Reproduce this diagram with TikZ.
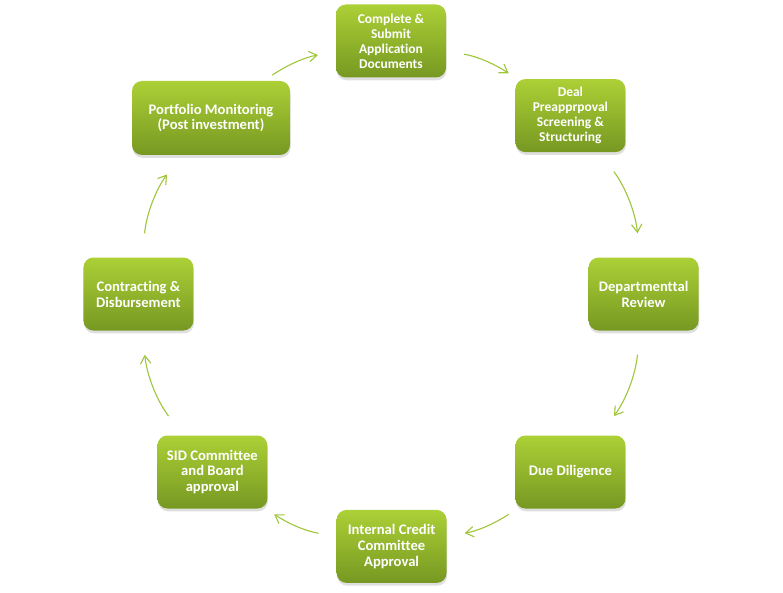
\documentclass[tikz,border=0pt]{standalone}
\usepackage{fontspec}
\setmainfont{Carlito}[Ligatures=CommonOff]
\usepackage{xcolor}
\usepackage{tikz}
\usetikzlibrary{arrows.meta,shadows}
\definecolor{leafhi}{RGB}{172,208,54}
\definecolor{leaflo}{RGB}{118,152,34}
\definecolor{flowgreen}{RGB}{160,198,62}

\begin{document}
\begin{tikzpicture}[
  stage/.style={rounded corners=0.25cm, minimum width=2.75cm, minimum height=1.825cm,
    top color=leafhi, bottom color=leaflo, text=white, align=center, inner sep=2pt,
    font=\bfseries\fontsize{10.4}{11.3}\selectfont,
    drop shadow={shadow xshift=0.4pt, shadow yshift=-2pt, opacity=0.25}},
  tight/.style={font=\bfseries\fontsize{9.6}{10.6}\selectfont},
  flow/.style={-{Straight Barb[length=2mm,width=2.6mm]}, flowgreen, line width=0.8pt},
  flat/.style={flow, bend left=12},
  steep/.style={flow, bend left=16, shorten <=0.6cm, shorten >=0.6cm}]
  \useasboundingbox (0,0) rectangle (19.575,14.8);
  % stages around the cycle
  \node[stage, tight] (submit) at (9.775,13.775) {Complete \&\\ Submit\\ Application\\ Documents};
  \node[stage, tight] (screen) at (14.26,11.91) {Deal\\ Preapprpoval\\ Screening \&\\ Structuring};
  \node[stage] (review) at (16.09,7.45) {Departmenttal\\ Review};
  \node[stage] (diligence) at (14.26,3.0) {Due Diligence};
  \node[stage] (credit) at (9.79,1.14) {Internal Credit\\ Committee\\ Approval};
  \node[stage] (board) at (5.31,3.0) {SID Committee\\ and Board\\ approval};
  \node[stage] (disburse) at (3.46,7.45) {Contracting \&\\ Disbursement};
  \node[stage, minimum width=3.95cm, minimum height=1.85cm] (monitor) at (5.275,11.85)
    {Portfolio Monitoring\\ (Post investment)};
  % arrows
  \draw[flat, shorten <=0.45cm, shorten >=0.25cm] (submit) to (screen);
  \draw[steep] (screen) to (review);
  \draw[steep] (review) to (diligence);
  \draw[flat, shorten <=0.25cm, shorten >=0.45cm] (diligence) to (credit);
  \draw[flat, shorten <=0.45cm, shorten >=0.25cm] (credit) to (board);
  \draw[steep] (board) to (disburse);
  \draw[steep] (disburse) to (monitor);
  \draw[flat, shorten <=0.25cm, shorten >=0.45cm] (monitor) to (submit);
\end{tikzpicture}
\end{document}
